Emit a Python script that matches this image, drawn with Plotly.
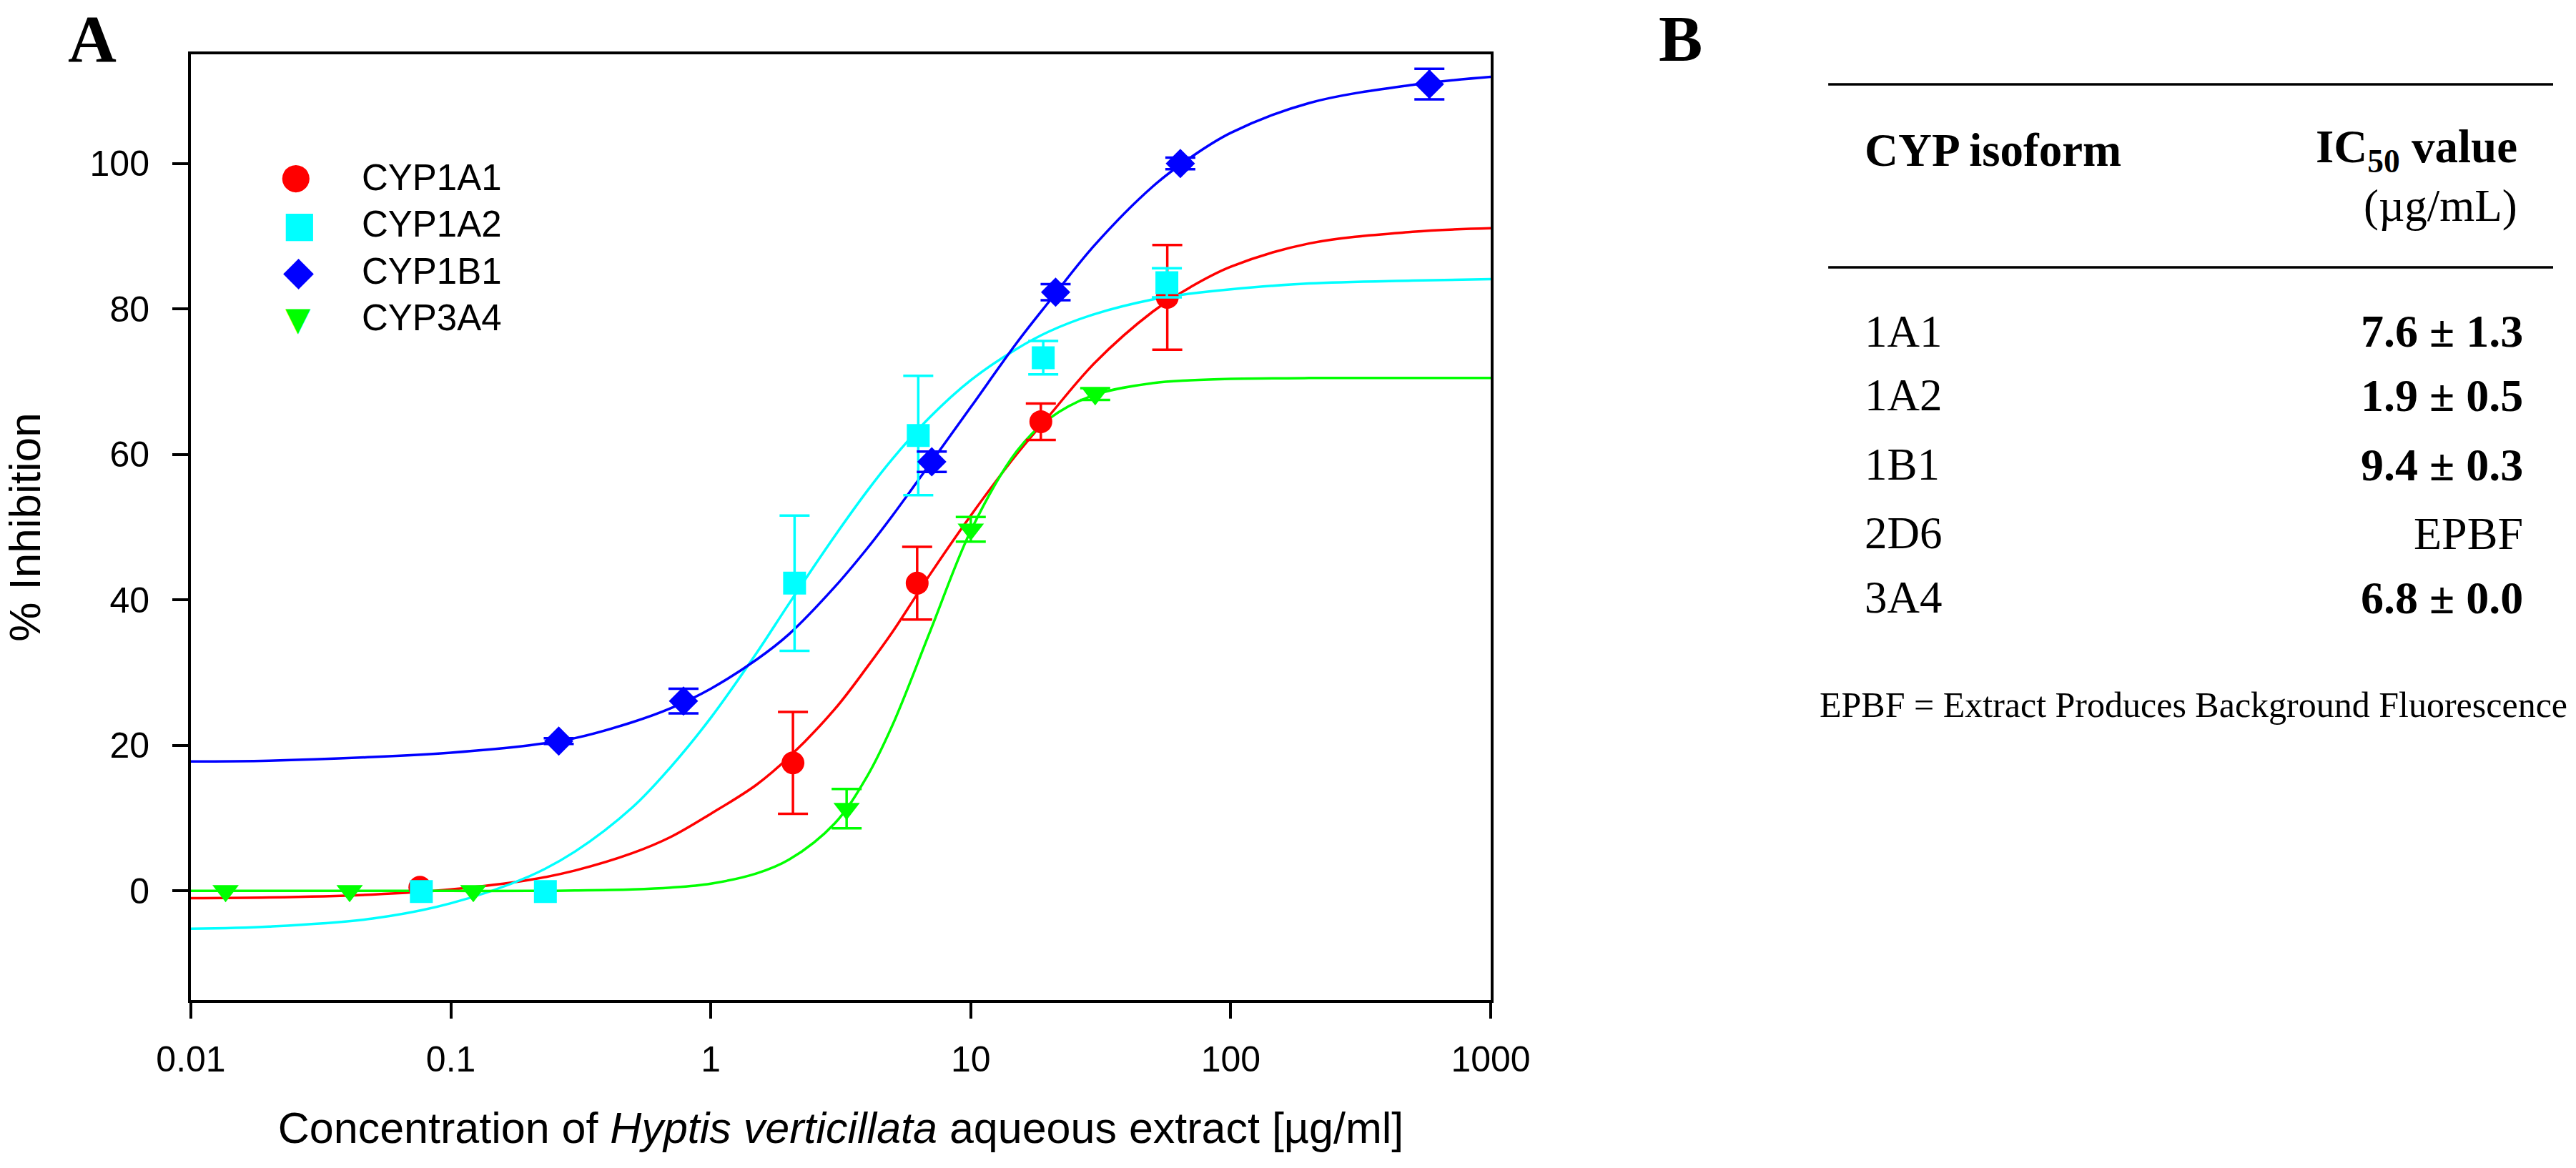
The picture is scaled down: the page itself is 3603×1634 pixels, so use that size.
import plotly.graph_objects as go

# === Data ===
series_names = ["CYP1A1", "CYP1A2", "CYP1B1", "CYP3A4"]
series_colors = ["#FF0000", "#00FFFF", "#0000FF", "#00FF00"]
series_symbols = ["circle", "square", "diamond", "triangle-down"]

# measured points (concentration in ug/ml, % inhibition, error)
x_1a1 = [0.076, 2.07, 6.22, 18.6, 57.0]
y_1a1 = [0.5, 17.6, 42.3, 64.5, 81.6]
e_1a1 = [0.0, 7.0, 5.0, 2.5, 7.2]

x_1a2 = [0.077, 0.231, 2.10, 6.28, 19.0, 56.8]
y_1a2 = [-0.1, -0.1, 42.3, 62.6, 73.3, 83.6]
e_1a2 = [0.0, 0.0, 9.3, 8.2, 2.3, 2.0]

x_1b1 = [0.26, 0.785, 7.08, 21.2, 64.0, 581.0]
y_1b1 = [20.6, 26.1, 59.0, 82.3, 100.0, 110.9]
e_1b1 = [0.4, 1.7, 1.4, 1.1, 0.8, 2.1]

x_3a4 = [0.0136, 0.0408, 0.122, 3.33, 10.0, 30.1]
y_3a4 = [0.0, 0.0, 0.0, 11.3, 49.7, 68.3]
e_3a4 = [0.0, 0.0, 0.0, 2.7, 1.7, 0.8]

# fitted curves
curve_x = [0.01, 0.02, 0.05, 0.1, 0.2, 0.3, 0.5, 0.7, 1, 1.5, 2, 3, 4, 5, 7,
           10, 15, 20, 30, 50, 70, 100, 200, 500, 1000]
curve_1a1 = [-1.0, -0.9, -0.5, 0.2, 1.5, 2.8, 5.2, 7.4, 10.6, 14.6, 18.4, 25.0,
             30.8, 35.6, 43.6, 51.6, 60.0, 65.3, 72.6, 79.6, 83.0, 85.8, 89.0, 90.6, 91.1]
curve_1a2 = [-5.2, -4.9, -3.8, -1.7, 2.0, 5.4, 11.5, 17.0, 23.8, 32.7, 39.5, 48.8,
             55.0, 59.4, 65.2, 70.2, 74.5, 76.9, 79.3, 81.3, 82.1, 82.7, 83.5, 83.9, 84.1]
curve_1b1 = [17.8, 17.9, 18.4, 19.0, 20.0, 21.0, 23.2, 25.1, 27.8, 31.8, 35.3, 41.8,
             47.1, 51.6, 58.8, 66.5, 75.3, 81.0, 88.8, 96.8, 100.8, 104.2, 108.3, 110.8, 111.9]
curve_3a4 = [0.0, 0.0, 0.0, 0.0, 0.0, 0.05, 0.2, 0.45, 1.0, 2.4, 4.3, 9.3,
             15.8, 22.8, 35.8, 49.5, 60.4, 64.9, 68.2, 69.8, 70.2, 70.4, 70.5, 70.5, 70.5]

x_tick_vals = [0.01, 0.1, 1, 10, 100, 1000]
x_tick_text = ["0.01", "0.1", "1", "10", "100", "1000"]
y_tick_vals = [0, 20, 40, 60, 80, 100]

# table (panel B)
table_isoforms = ["1A1", "1A2", "1B1", "2D6", "3A4"]
table_ic50 = ["7.6 ± 1.3", "1.9 ± 0.5", "9.4 ± 0.3", "EPBF", "6.8 ± 0.0"]
table_bold = [True, True, True, False, True]
footnote = "EPBF = Extract Produces Background Fluorescence"

points = [(x_1a1, y_1a1, e_1a1), (x_1a2, y_1a2, e_1a2),
          (x_1b1, y_1b1, e_1b1), (x_3a4, y_3a4, e_3a4)]
curves = [curve_1a1, curve_1a2, curve_1b1, curve_3a4]

# === Page geometry (pixels) ===
W, H = 3603, 1634
L, R, T, B = 256, 2085, 76, 1399


def px(x):
    return (x - L) / (R - L)


def py(y):
    return (B - y) / (B - T)


SANS = "Liberation Sans, Arial, sans-serif"
SERIF = "Liberation Serif, Times New Roman, serif"

fig = go.Figure()

# curves
for name, color, cy in zip(series_names, series_colors, curves):
    fig.add_trace(go.Scatter(
        x=curve_x, y=cy, mode="lines", line=dict(color=color, width=3.5, shape="spline"),
        showlegend=False, hoverinfo="skip"))

# points: error bars only where there is a visible error, then markers
for name, color, sym, (xs, ys, es) in zip(series_names, series_colors, series_symbols, points):
    ex = [x for x, e in zip(xs, es) if e > 0]
    ey = [y for y, e in zip(ys, es) if e > 0]
    ee = [e for e in es if e > 0]
    fig.add_trace(go.Scatter(
        x=ex, y=ey, mode="markers", marker=dict(size=1, opacity=0),
        error_y=dict(type="data", array=ee, visible=True, color=color,
                     thickness=3.5, width=21),
        showlegend=False, hoverinfo="skip"))
    fig.add_trace(go.Scatter(
        x=xs, y=ys, mode="markers", name=name,
        marker=dict(symbol=sym, size=32 if sym != "diamond" else 31.5,
                    color=color, line=dict(width=0)),
        showlegend=False))

ann = []

# legend (symbols + labels)
legend_glyphs = ["●", "■", "◆", "▼"]
legend_glyph_size = [50, 50, 56, 46]
legend_glyph_x = [404, 408, 407, 407]
legend_glyph_y = [246, 314, 378, 446]
legend_rows = [248, 313, 379, 444]
for name, color, g, gs, gx, gy, yy in zip(series_names, series_colors, legend_glyphs,
                                          legend_glyph_size, legend_glyph_x,
                                          legend_glyph_y, legend_rows):
    ann.append(dict(x=px(gx), y=py(gy), xref="paper", yref="paper", text=g,
                    showarrow=False, xanchor="center", yanchor="middle",
                    font=dict(family="DejaVu Sans", size=gs, color=color)))
    ann.append(dict(x=px(494), y=py(yy), xref="paper", yref="paper", text=name,
                    showarrow=False, xanchor="left", yanchor="middle",
                    font=dict(family=SANS, size=51, color="black")))

# panel letters
ann.append(dict(x=px(117), y=py(54), xref="paper", yref="paper", text="<b>A</b>",
                showarrow=False, xanchor="center", yanchor="middle",
                font=dict(family=SERIF, size=94, color="black")))
ann.append(dict(x=px(2352), y=py(54), xref="paper", yref="paper", text="<b>B</b>",
                showarrow=False, xanchor="center", yanchor="middle",
                font=dict(family=SERIF, size=92, color="black")))

# table header
ann.append(dict(x=px(2609), y=py(210), xref="paper", yref="paper", text="<b>CYP isoform</b>",
                showarrow=False, xanchor="left", yanchor="middle",
                font=dict(family=SERIF, size=65, color="black")))
ann.append(dict(x=px(3532), y=py(210), xref="paper", yref="paper",
                text="<b>IC<sub>50</sub> value</b>",
                showarrow=False, xanchor="right", yanchor="middle",
                font=dict(family=SERIF, size=65, color="black")))
ann.append(dict(x=px(3532), y=py(288), xref="paper", yref="paper", text="(µg/mL)",
                showarrow=False, xanchor="right", yanchor="middle",
                font=dict(family=SERIF, size=63, color="black")))

row_y = [464, 553, 650, 746, 836]
for iso, val, bold, yy in zip(table_isoforms, table_ic50, table_bold, row_y):
    ann.append(dict(x=px(2609), y=py(yy), xref="paper", yref="paper", text=iso,
                    showarrow=False, xanchor="left", yanchor="middle",
                    font=dict(family=SERIF, size=63, color="black")))
    ann.append(dict(x=px(3540), y=py(yy), xref="paper", yref="paper",
                    text=f"<b>{val}</b>" if bold else val,
                    showarrow=False, xanchor="right", yanchor="middle",
                    font=dict(family=SERIF, size=64, color="black")))

ann.append(dict(x=px(2546), y=py(986), xref="paper", yref="paper", text=footnote,
                showarrow=False, xanchor="left", yanchor="middle",
                font=dict(family=SERIF, size=50, color="black")))

shapes = [
    dict(type="line", xref="paper", yref="paper", x0=px(2560), x1=px(3580),
         y0=py(118), y1=py(118), line=dict(color="black", width=3.5)),
    dict(type="line", xref="paper", yref="paper", x0=px(2560), x1=px(3580),
         y0=py(374), y1=py(374), line=dict(color="black", width=3.5)),
]

axis_common = dict(showgrid=False, zeroline=False, showline=True, linecolor="black",
                   linewidth=4, mirror=True, ticks="outside", ticklen=22, tickwidth=3.5,
                   tickcolor="black", tickfont=dict(family=SANS, size=50, color="black"))

fig.update_layout(
    width=W, height=H,
    margin=dict(l=L, r=W - R, t=T, b=H - B, pad=0),
    paper_bgcolor="white", plot_bgcolor="white",
    showlegend=False,
    annotations=ann, shapes=shapes,
    xaxis=dict(type="log", range=[-2, 3], tickvals=x_tick_vals, ticktext=x_tick_text,
               ticklabelstandoff=14,
               title=dict(text="Concentration of <i>Hyptis verticillata</i> aqueous extract [µg/ml]",
                          font=dict(family=SANS, size=61, color="black"), standoff=48),
               **axis_common),
    yaxis=dict(range=[-15, 115], tickvals=y_tick_vals, ticklabelstandoff=22,
               title=dict(text="% Inhibition", font=dict(family=SANS, size=62, color="black"),
                          standoff=70),
               **axis_common),
)

# drop the browser's default body margin so the figure sits at the page corner
fig.write_html("out.html", config={"displayModeBar": False},
               post_script="document.body.style.margin='0';")
